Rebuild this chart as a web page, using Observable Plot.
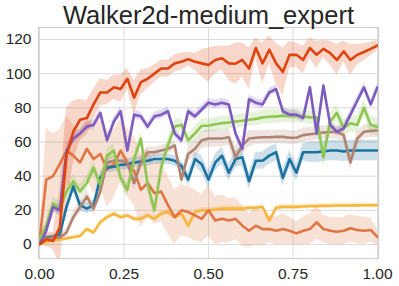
<!DOCTYPE html>
<html>
<head>
<meta charset="utf-8">
<script src="https://cdn.jsdelivr.net/npm/d3@7"></script>
<script src="https://cdn.jsdelivr.net/npm/@observablehq/plot@0.6"></script>
<style>
  html, body { margin: 0; padding: 0; background: #fff; }
</style>
</head>
<body>
<div id="chart"></div>
<script>
const title = "Walker2d-medium_expert";

const xs = [0,0.02,0.04,0.06,0.08,0.10,0.12,0.14,0.16,0.18,
  0.20,0.22,0.24,0.26,0.28,0.30,0.32,0.34,0.36,0.38,
  0.40,0.42,0.44,0.46,0.48,0.50,0.52,0.54,0.56,0.58,
  0.60,0.62,0.64,0.66,0.68,0.70,0.72,0.74,0.76,0.78,
  0.80,0.82,0.84,0.86,0.88,0.90,0.92,0.94,0.96,0.98,1.00];

const xTicks = [0, 0.25, 0.5, 0.75, 1];
const yTicks = [0, 20, 40, 60, 80, 100, 120];

const seriesNames = ["S1", "S2", "S3", "S4", "S5", "S6", "S7"];
const seriesColors = ["#e0440e", "#7d5bbf", "#8ec653", "#b08470", "#1c72a0", "#f6b73c", "#e07542"];

const s1 = [0,3,2,10,52,66,73,74,82,89,
  89,92,91,97,86,95,97,100,103,103,
  106,107,108.5,107,106,105,108,109,106,105.8,
  108,103,115,106,114,106,101,111,111,108,
  115,111,114.5,112,108,113,108,111,112.7,114.5,116.5];
const s1Sd = [0,4,5,22,28,18,12,10,9,8,
  7,7,8,6,10,7,6,5,5,5,
  5,5,4,5,8,10,8,7,10,12,
  10,12,6,12,8,12,14,8,7,8,
  6,8,5,7,9,6,9,6,5,4,3];

const s2 = [0,8,22,20,55,62,65,69,70,77,
  61,72,78,55,76,75,69,75,76,78,
  65,61,78,75,79,83,82,83,82,65,
  56,85,83,82,89,91,78,76,76,74,
  92,65,93,70,66,68,76,84,92,82,92];
const s2Sd = [0,2,3,3,4,3,2.5,2.5,2.5,2.5,
  2.5,2.5,2.5,2.5,2.5,2.5,2.5,2.5,2.5,2.5,
  2.5,2.5,2.5,2.5,2.5,2.5,2.5,2.5,2.5,2.5,
  2.5,2.5,2.5,2.5,2.5,2.5,2.5,2.5,2.5,2.5,
  2.5,2.5,2.5,2.5,2.5,2.5,2.5,2.5,2.5,2.5,2.5];

const s3 = [3,11,24,21,31,37,31,36,45,35,
  52,55,39,32,50,62,35,20,45,58,
  69,70,61,65,69.5,69.5,70.4,71,71.4,72,
  72.4,73,73.5,74.4,74.8,75,75.3,75.3,75.3,75,
  74.4,74.4,51,72,77,68,71,70,80,70,68.7];
const s3Sd = [1,3,4,4,4,4,4,4,4,4,
  4,4,4,4,4,4,4,4,4,4,
  4,4,4,4,4,4,4,4,4,4,
  4,4,4,4,4,4,4,4,4,4,
  4,5,6,5,5,5,5,5,5,5,5];

const s4 = [3,3.5,4,4,7,16,22,28,21,31,
  48,49,49,48,36,48,54,54,55,56,
  58,38,53,56,61,62,62,62,62.8,51,
  58,62,62.5,62.8,62.8,63,63,62.5,62.5,64,
  64.5,65,65.5,65.8,65.8,64,48,62,66,66.5,66.7];
const s4Sd = [1,2,2,2,3,3,4,4,4,4,
  4,3,3,3,4,4,3,3,3,3,
  3,4,4,5,5,5,5,5,5,6,
  5,5,4,4,4,4,4,4,4,4,
  4,4,4,4,4,4,5,4,4,4,4];

const s5 = [3,4,4.5,6,22,34,23,21,23,39,
  45,45.5,46.5,47,48,48.5,49,50,50,50,
  49,46,38,50,47,38,48,52,42,50,
  51,37,49,49,52,54,39,50,42,54,
  54,54,54.5,55,55,54.5,55,55,55,55,55];
const s5Sd = [1,1,1,2,3,3,3,3,3,3,
  3,3,3,3,3,3,3,3,3,3,
  3,3,4,4,5,5,5,5,5,5,
  5,5,5,5,5,5,5,5,5,5,
  6,6,6,6,6,6,6,6,6,6,6];

const s6 = [0.5,1.5,2.5,3,3.5,4.3,5,9,7,13,
  16,18,16,17,15,15,17,15,18,19,
  16,18,11,19,20,20,20.5,21,21,21,
  21,21.5,21.5,22,14,21.5,22,22,22,22.2,
  22.4,22.5,22.6,22.7,22.8,22.8,22.8,22.9,23,23,23];
const s6Sd = [0.5,1,1,1,1,1,1.5,1.5,1.5,1.5,
  1.5,1.5,1.5,1.5,1.5,1.5,1.5,1.5,1.5,1.5,
  1.5,1.5,1.5,1.5,1.5,1.5,1.5,1.5,1.5,1.5,
  1.5,1.5,1.5,1.5,1.5,1.5,1.5,1.5,1.5,1.5,
  1.5,1.5,1.5,1.5,1.5,1.5,1.5,1.5,1.5,1.5,1.5];

const s7 = [2,38,40,47,55,52,48,56,50,53,
  44,47,55,48,43,32,36,30,31,23,
  16,20,19,17,15,20,14,15,14,15,
  11,8,11,9,9,8,9,8,6.5,8,
  9,13,9,8,7.5,8,9.5,8.5,8,8.5,4.3];
const s7Sd = [2,30,25,20,20,18,18,18,20,20,
  22,20,18,20,20,22,20,18,18,17,
  16,15,15,15,14,15,14,14,13,12,
  12,10,11,10,8,8,9,8,7,8,
  9,10,8,8,8,8,8,8,8,7,5];

const means = [s1, s2, s3, s4, s5, s6, s7];
const sds = [s1Sd, s2Sd, s3Sd, s4Sd, s5Sd, s6Sd, s7Sd];

const rows = [];
seriesNames.forEach((name, k) => {
  xs.forEach((x, i) => {
    const m = means[k][i], s = sds[k][i];
    rows.push({s: name, x, y: m, lo: m - s, hi: m + s});
  });
});

// draw order (first drawn = bottom)
const drawOrder = ["S6", "S7", "S5", "S4", "S3", "S2", "S1"];
const ordered = drawOrder.flatMap(n => rows.filter(r => r.s === n));

const chart = Plot.plot({
  width: 399,
  height: 286,
  marginLeft: 38,
  marginRight: 21,
  marginTop: 27,
  marginBottom: 28,
  style: {
    fontFamily: "'Liberation Sans', Arial, sans-serif",
    fontSize: "15.5px",
    color: "#262626",
    background: "#ffffff"
  },
  x: {domain: [0, 1], insetLeft: 1, insetRight: 1, label: null},
  y: {domain: [-8.2, 127], label: null},
  color: {type: "ordinal", domain: seriesNames, range: seriesColors},
  marks: [
    Plot.gridX(xTicks, {stroke: "#dcdcdc", strokeOpacity: 1, strokeWidth: 1}),
    Plot.gridY(yTicks, {stroke: "#dcdcdc", strokeOpacity: 1, strokeWidth: 1}),
    Plot.areaY(ordered, {x: "x", y1: "lo", y2: "hi", z: "s", fill: "s", fillOpacity: 0.22, clip: true}),
    Plot.lineY(ordered, {x: "x", y: "y", z: "s", stroke: "s", strokeWidth: 2.6, clip: true}),
    Plot.frame({stroke: "#cfcfcf", strokeWidth: 1.2}),
    Plot.axisX(xTicks, {tickSize: 0, tickPadding: 9, tickFormat: d => d.toFixed(2), label: null}),
    Plot.axisY(yTicks, {tickSize: 0, tickPadding: 7, label: null}),
    Plot.text([title], {frameAnchor: "top", dy: -4, lineAnchor: "bottom", fontSize: 25.5, fill: "#262626"})
  ]
});
document.getElementById("chart").appendChild(chart);
</script>
</body>
</html>
